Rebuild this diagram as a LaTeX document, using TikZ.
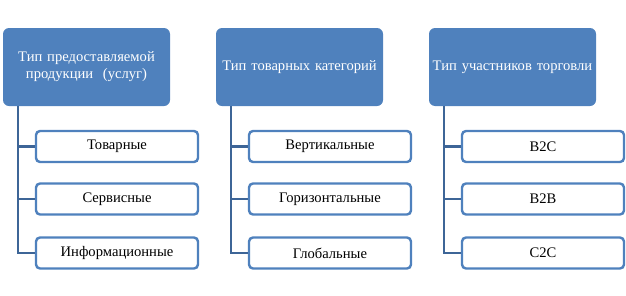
\documentclass[tikz,border=0pt]{standalone}
\usepackage{fontspec}
\setmainfont{Liberation Serif}
\usepackage{tikz}
\usetikzlibrary{positioning,calc}
\definecolor{hdblue}{HTML}{4F81BD}
\definecolor{lnblue}{HTML}{3D6597}

\begin{document}
\begin{tikzpicture}[x=1pt,y=-1pt,font=\fontsize{14.6}{17}\selectfont,
  hd/.style={rectangle,rounded corners=6pt,fill=hdblue,text=white,align=center,inner sep=2pt,minimum width=167pt,minimum height=78pt,text width=163pt},
  item/.style={rectangle,rounded corners=4pt,draw=hdblue,line width=2.4pt,fill=white,align=center,inner sep=2pt,minimum width=162pt,minimum height=31pt},
  con/.style={line width=2.6pt,lnblue}]
  \useasboundingbox (0,0) rectangle (626,295);
  % headers
  \node[hd] (h1) at (86.5,67)  {Тип предоставляемой\\ продукции\ \ (услуг)};
  \node[hd] (h2) at (299.5,67) {Тип товарных категорий};
  \node[hd] (h3) at (512.5,67) {Тип участников торговли};
  % connectors
  \draw[con] ([xshift=15]h1.south west) -- ++(0,147);
  \draw[con] ([xshift=15]h2.south west) -- ++(0,147);
  \draw[con] ([xshift=15]h3.south west) -- ++(0,147);
  % items
  \node[item] (t1) at (117,146.5) {Товарные};
  \node[item] (t2) at (117,199)   {Сервисные};
  \node[item] (t3) at (117,253)   {Информационные};
  \node[item] (k1) at (330,146.5) {Вертикальные};
  \node[item] (k2) at (330,199)   {Горизонтальные};
  \node[item] (k3) at (330,253)   {Глобальные};
  \node[item] (u1) at (543,146.5) {B2C};
  \node[item] (u2) at (543,199)   {B2B};
  \node[item] (u3) at (543,253)   {C2C};
  \draw[con] ([xshift=15]h1.south west) |- (t1.west);
  \draw[con] ([xshift=15]h1.south west) |- (t2.west);
  \draw[con] ([xshift=15]h1.south west) |- (t3.west);
  \draw[con] ([xshift=15]h2.south west) |- (k1.west);
  \draw[con] ([xshift=15]h2.south west) |- (k2.west);
  \draw[con] ([xshift=15]h2.south west) |- (k3.west);
  \draw[con] ([xshift=15]h3.south west) |- (u1.west);
  \draw[con] ([xshift=15]h3.south west) |- (u2.west);
  \draw[con] ([xshift=15]h3.south west) |- (u3.west);
\end{tikzpicture}
\end{document}
